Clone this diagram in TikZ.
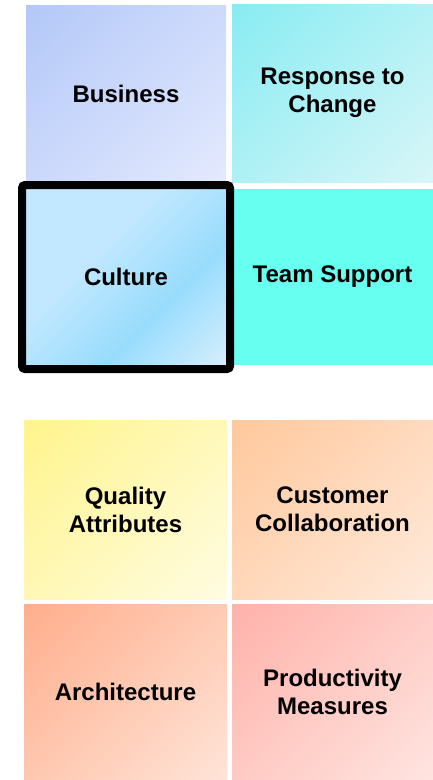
\documentclass[tikz,border=0pt]{standalone}
\usepackage{fontspec}
\setmainfont{Liberation Sans}
\definecolor{bizA}{HTML}{B3C8F8}
\definecolor{bizB}{HTML}{E4EAFE}
\definecolor{resA}{HTML}{88ECF2}
\definecolor{resB}{HTML}{D8F6F8}
\definecolor{culA}{HTML}{C2E8FF}
\definecolor{culBand}{HTML}{98DCFC}
\definecolor{culB}{HTML}{DAF0FE}
\definecolor{teamC}{HTML}{66FFF0}
\definecolor{quaA}{HTML}{FFF48C}
\definecolor{quaB}{HTML}{FFFCE2}
\definecolor{cusA}{HTML}{FFC89C}
\definecolor{cusB}{HTML}{FFEADC}
\definecolor{arcA}{HTML}{FFAE8C}
\definecolor{arcB}{HTML}{FFE4D8}
\definecolor{proA}{HTML}{FFB2AA}
\definecolor{proB}{HTML}{FFE4E0}
\newcommand{\mkdiag}[3]{\pgfdeclarehorizontalshading{#1}{100bp}{color(0bp)=(#2); color(14.6bp)=(#2); color(85.4bp)=(#3); color(100bp)=(#3)}}
\mkdiag{bizS}{bizA}{bizB}
\mkdiag{resS}{resA}{resB}
\mkdiag{quaS}{quaA}{quaB}
\mkdiag{cusS}{cusA}{cusB}
\mkdiag{arcS}{arcA}{arcB}
\mkdiag{proS}{proA}{proB}
\pgfdeclarehorizontalshading{culS}{100bp}{color(0bp)=(culA); color(40bp)=(culA); color(62bp)=(culBand); color(85.4bp)=(culB); color(100bp)=(culB)}
\tikzset{
  cell/.style={inner sep=0pt, outer sep=0pt, anchor=north west, align=center,
    font=\bfseries\fontsize{24}{28}\selectfont, text=black},
  diag/.style={shade, shading=#1, shading angle=-45},
}
\begin{document}
\begin{tikzpicture}[x=1pt, y=-1pt]
\useasboundingbox (0,0) rectangle (433,780);
% top group
\node[cell, diag=bizS, minimum width=200pt, minimum height=177pt] (business) at (26,5) {Business};
\node[cell, diag=resS, minimum width=201pt, minimum height=178pt] (response) at (232,4) {Response to\\Change};
\node[cell, fill=teamC, minimum width=201pt, minimum height=176pt] (team) at (232,189) {Team Support};
\node[cell, diag=culS, draw=black, line width=8pt, rounded corners=3pt, minimum width=208pt, minimum height=184pt] (culture) at (22,185) {Culture};
% bottom group
\node[cell, diag=quaS, minimum width=203pt, minimum height=179pt] (quality) at (24,420) {Quality\\Attributes};
\node[cell, diag=cusS, minimum width=201pt, minimum height=179pt] (customer) at (232,420) {Customer\\Collaboration};
\node[cell, diag=arcS, minimum width=203pt, minimum height=176pt] (architecture) at (24,604) {Architecture};
\node[cell, diag=proS, minimum width=201pt, minimum height=176pt] (productivity) at (232,604) {Productivity\\Measures};
\end{tikzpicture}
\end{document}
